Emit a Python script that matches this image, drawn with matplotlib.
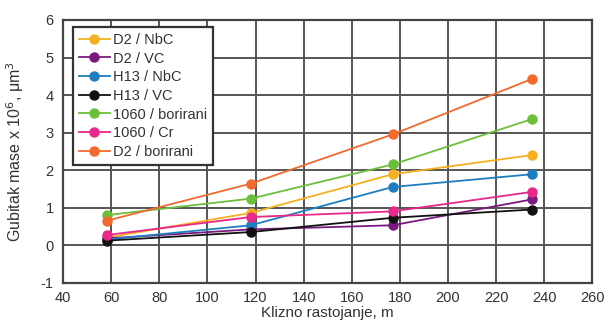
import matplotlib
matplotlib.use("Agg")
import matplotlib.pyplot as plt

plt.rcParams['font.family'] = ['Liberation Sans', 'DejaVu Sans']
plt.rcParams['axes.unicode_minus'] = False

distance = [58, 118, 177, 235]
labels = ["D2 / NbC", "D2 / VC", "H13 / NbC", "H13 / VC", "1060 / borirani", "1060 / Cr", "D2 / borirani"]
d2_nbc = [0.20, 0.86, 1.89, 2.40]
d2_vc = [0.18, 0.42, 0.53, 1.22]
h13_nbc = [0.15, 0.53, 1.55, 1.89]
h13_vc = [0.12, 0.35, 0.73, 0.95]
b1060_bor = [0.80, 1.24, 2.15, 3.36]
b1060_cr = [0.27, 0.75, 0.90, 1.42]
d2_bor = [0.65, 1.64, 2.95, 4.43]
series = [d2_nbc, d2_vc, h13_nbc, h13_vc, b1060_bor, b1060_cr, d2_bor]
colors = ["#f5b021", "#7a1a80", "#1e7fc0", "#111111", "#6cbf3a", "#e8288a", "#f26a2e"]

fig = plt.figure(figsize=(6.08, 3.22), dpi=100)
ax = fig.add_axes([0.104, 0.122, 0.870, 0.816])

for vals, lab, c in zip(series, labels, colors):
    ax.plot(distance, vals, color=c, lw=1.3, marker='o', ms=6.5, label=lab)

ax.set_xlim(40, 260)
ax.set_ylim(-1, 6)
ax.set_xticks(range(40, 261, 20))
ax.set_yticks(range(-1, 7))
ax.grid(True, color='#555555', lw=1.4)
ax.set_axisbelow(True)
ax.tick_params(axis='y', length=0, labelsize=10.5, colors='#333333', pad=7)
ax.tick_params(axis='x', length=0, labelsize=10.5, colors='#333333', pad=6)
for s in ax.spines.values():
    s.set_color('#444444')
    s.set_linewidth(1.6)

ax.set_xlabel("Klizno rastojanje, m", fontsize=11, color='#333333')
ax.set_ylabel("Gubitak mase x 10$^6$, μm$^3$", fontsize=11.5, color='#333333')
ax.xaxis.set_label_coords(0.5, -0.088)
ax.yaxis.set_label_coords(-0.07, 0.5)

leg = ax.legend(loc='upper left', bbox_to_anchor=(0.019, 0.973), fontsize=10.5,
                frameon=True, fancybox=False, edgecolor='#333333', framealpha=1,
                handlelength=2.1, handletextpad=0.2, labelspacing=0.32, borderpad=0.4,
                borderaxespad=0)
leg.get_frame().set_linewidth(1.6)
for t in leg.get_texts():
    t.set_color('#333333')

fig.savefig("out.png", dpi=100)
